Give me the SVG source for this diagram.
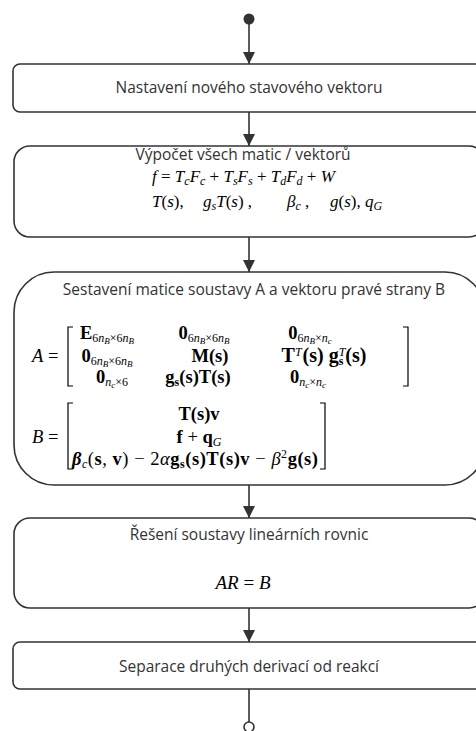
<svg xmlns="http://www.w3.org/2000/svg" width="476" height="731" viewBox="0 0 476 731">
<defs>
<style>
.node rect{fill:#fff;stroke:#333;stroke-width:1.6}
.lbl{font-family:"Open Sans","Noto Sans",sans-serif;font-size:15.5px;fill:#333;text-anchor:middle}
.m{font-family:"Liberation Serif","Times New Roman",serif;font-size:17px;fill:#000}
.mx{font-size:18.5px}
.c{text-anchor:middle}
.i{font-style:italic}
.b{font-weight:bold}
.sb{font-size:12px}
.ss{font-size:9px}
.br{fill:none;stroke:#000;stroke-width:1.2}
.conn line{stroke:#333;stroke-width:1.6}
</style>
<marker id="arr" viewBox="0 0 12 12" refX="12" refY="6" markerWidth="12" markerHeight="12" markerUnits="userSpaceOnUse" orient="auto">
<path d="M0,0 L12,6 L0,12 z" fill="#333"/>
</marker>
</defs>
<rect width="476" height="731" fill="#fff"/>

<g id="connectors" class="conn">
<circle cx="249" cy="19" r="5.5" fill="#333"/>
<line x1="249" y1="24" x2="249" y2="64" marker-end="url(#arr)"/>
<line x1="249" y1="112" x2="249" y2="146" marker-end="url(#arr)"/>
<line x1="249" y1="237" x2="249" y2="272" marker-end="url(#arr)"/>
<line x1="249" y1="485" x2="249" y2="518" marker-end="url(#arr)"/>
<line x1="249" y1="608" x2="249" y2="642" marker-end="url(#arr)"/>
<line x1="249" y1="689" x2="249" y2="722"/>
<circle cx="249" cy="727" r="5" fill="#fff" stroke="#333" stroke-width="1.6"/>
</g>

<g id="n1" class="node">
<rect x="13" y="64" width="472" height="48" rx="7"/>
<text class="lbl" x="249" y="93">Nastavení nového stavového vektoru</text>
</g>

<g id="n2" class="node">
<rect x="14" y="146" width="471" height="91" rx="16"/>
<text class="lbl" x="243" y="160">Výpočet všech matic / vektorů</text>
<text class="m" x="152" y="182"><tspan class="i">f</tspan> = <tspan class="i">T</tspan><tspan class="i sb" dy="3">c</tspan><tspan class="i" dy="-3">F</tspan><tspan class="i sb" dy="3">c</tspan><tspan dy="-3"> + </tspan><tspan class="i">T</tspan><tspan class="i sb" dy="3">s</tspan><tspan class="i" dy="-3">F</tspan><tspan class="i sb" dy="3">s</tspan><tspan dy="-3"> + </tspan><tspan class="i">T</tspan><tspan class="i sb" dy="3">d</tspan><tspan class="i" dy="-3">F</tspan><tspan class="i sb" dy="3">d</tspan><tspan dy="-3"> + </tspan><tspan class="i">W</tspan></text>
<text class="m" x="152" y="207"><tspan class="i">T</tspan>(<tspan class="i">s</tspan>),</text>
<text class="m" x="203" y="207"><tspan class="i">g</tspan><tspan class="i sb" dy="3">s</tspan><tspan class="i" dy="-3">T</tspan>(<tspan class="i">s</tspan>) ,</text>
<text class="m" x="287" y="207"><tspan class="i">β</tspan><tspan class="i sb" dy="3">c</tspan><tspan dy="-3"> ,</tspan></text>
<text class="m" x="330" y="207"><tspan class="i">g</tspan>(<tspan class="i">s</tspan>),</text>
<text class="m" x="365" y="207"><tspan class="i">q</tspan><tspan class="i sb" dy="3">G</tspan></text>
</g>

<g id="n3" class="node">
<rect x="14" y="272" width="471" height="213" rx="40"/>
<text class="lbl" x="254" y="295">Sestavení matice soustavy A a vektoru pravé strany B</text>
<text class="m mx" x="32" y="362"><tspan class="i">A</tspan> =</text>
<path class="br" d="M73,327 H68 V386 H73"/>
<path class="br" d="M403,327 H408 V386 H403"/>
<text class="m mx c" x="107" y="339"><tspan class="b">E</tspan><tspan class="sb" dy="3">6</tspan><tspan class="sb i">n</tspan><tspan class="ss i" dy="2">B</tspan><tspan class="sb" dy="-2">×6</tspan><tspan class="sb i">n</tspan><tspan class="ss i" dy="2">B</tspan></text>
<text class="m mx c" x="204" y="339"><tspan class="b">0</tspan><tspan class="sb" dy="3">6</tspan><tspan class="sb i">n</tspan><tspan class="ss i" dy="2">B</tspan><tspan class="sb" dy="-2">×6</tspan><tspan class="sb i">n</tspan><tspan class="ss i" dy="2">B</tspan></text>
<text class="m mx c" x="310" y="339"><tspan class="b">0</tspan><tspan class="sb" dy="3">6</tspan><tspan class="sb i">n</tspan><tspan class="ss i" dy="2">B</tspan><tspan class="sb" dy="-2">×</tspan><tspan class="sb i">n</tspan><tspan class="ss i" dy="2">c</tspan></text>
<text class="m mx c" x="107" y="362"><tspan class="b">0</tspan><tspan class="sb" dy="3">6</tspan><tspan class="sb i">n</tspan><tspan class="ss i" dy="2">B</tspan><tspan class="sb" dy="-2">×6</tspan><tspan class="sb i">n</tspan><tspan class="ss i" dy="2">B</tspan></text>
<text class="m mx c" x="210" y="362"><tspan class="b">M(s)</tspan></text>
<text class="m c" x="324" y="362" style="font-size:20px"><tspan class="b">T</tspan><tspan class="sb i" dy="-6">T</tspan><tspan class="b" dx="1" dy="6">(s) g</tspan><tspan class="sb i" dy="-6">T</tspan><tspan class="sb b" dx="-6.7" dy="9">s</tspan><tspan class="b" dx="2" dy="-3">(s)</tspan></text>
<text class="m mx c" x="112" y="383"><tspan class="b">0</tspan><tspan class="sb i" dy="3">n</tspan><tspan class="ss i" dy="2">c</tspan><tspan class="sb" dy="-2">×6</tspan></text>
<text class="m mx c" x="198" y="383"><tspan class="b">g</tspan><tspan class="sb b" dy="3">s</tspan><tspan class="b" dy="-3">(s)T(s)</tspan></text>
<text class="m mx c" x="308" y="383"><tspan class="b">0</tspan><tspan class="sb i" dy="3">n</tspan><tspan class="ss i" dy="2">c</tspan><tspan class="sb" dy="-2">×</tspan><tspan class="sb i">n</tspan><tspan class="ss i" dy="2">c</tspan></text>
<text class="m mx" x="32" y="443"><tspan class="i">B</tspan> =</text>
<path class="br" d="M73,403 H68 V469 H73"/>
<path class="br" d="M320,403 H325 V469 H320"/>
<text class="m mx c" x="199" y="420"><tspan class="b">T(s)v</tspan></text>
<text class="m mx c" x="199" y="443"><tspan class="b">f</tspan> + <tspan class="b">q</tspan><tspan class="sb i" dy="3">G</tspan></text>
<text class="m mx" x="72" y="465" textLength="246" lengthAdjust="spacing"><tspan class="b i">β</tspan><tspan class="sb i" dy="3">c</tspan><tspan dy="-3">(</tspan><tspan class="b">s</tspan>, <tspan class="b">v</tspan>) − 2<tspan class="i">α</tspan><tspan class="b">g</tspan><tspan class="sb b" dy="3">s</tspan><tspan class="b" dy="-3">(s)T(s)v</tspan> − <tspan class="i">β</tspan><tspan class="sb" dy="-7">2</tspan><tspan class="b" dy="7">g(s)</tspan></text>
</g>

<g id="n4" class="node">
<rect x="14" y="518" width="471" height="90" rx="16"/>
<text class="lbl" x="249" y="540">Řešení soustavy lineárních rovnic</text>
<text class="m c" x="243" y="589" style="font-size:19px"><tspan class="i">AR</tspan> = <tspan class="i">B</tspan></text>
</g>

<g id="n5" class="node">
<rect x="13" y="642" width="472" height="47" rx="7"/>
<text class="lbl" x="249" y="672">Separace druhých derivací od reakcí</text>
</g>
</svg>
